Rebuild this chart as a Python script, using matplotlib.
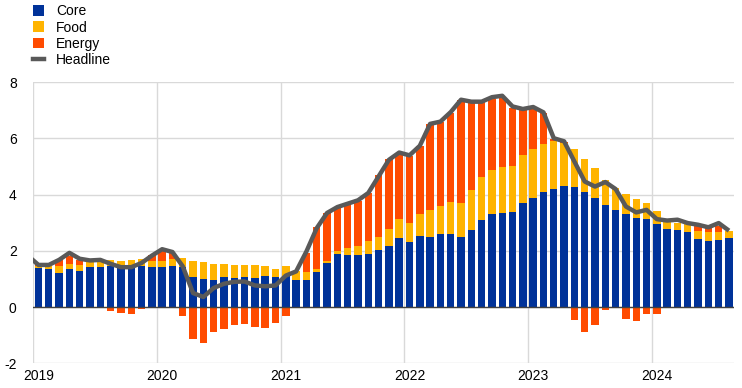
import matplotlib
matplotlib.use("Agg")
import matplotlib.pyplot as plt
from matplotlib.patches import Patch
from matplotlib.lines import Line2D
import numpy as np

plt.rcParams['font.family'] = ['Liberation Sans', 'DejaVu Sans']

years = ["2019", "2020", "2021", "2022", "2023", "2024"]

core = [1.38, 1.34, 1.23, 1.36, 1.27, 1.41, 1.44, 1.48, 1.42, 1.42, 1.48, 1.44,
        1.44, 1.47, 1.42, 1.07, 1.01, 0.95, 1.08, 1.04, 1.08, 1.04, 1.12, 1.06,
        1.09, 0.97, 0.97, 1.26, 1.58, 1.90, 1.86, 1.86, 1.90, 2.04, 2.18, 2.46,
        2.32, 2.54, 2.50, 2.61, 2.61, 2.50, 2.75, 3.11, 3.32, 3.36, 3.39, 3.71,
        3.90, 4.08, 4.22, 4.32, 4.28, 4.08, 3.90, 3.64, 3.44, 3.32, 3.18, 3.14,
        2.94, 2.79, 2.75, 2.68, 2.43, 2.36, 2.40, 2.47]

food = [0.10, 0.13, 0.24, 0.18, 0.24, 0.18, 0.19, 0.19, 0.23, 0.26, 0.23, 0.21,
        0.21, 0.24, 0.32, 0.58, 0.60, 0.58, 0.45, 0.47, 0.43, 0.45, 0.35, 0.30,
        0.38, 0.30, 0.29, 0.09, 0.07, 0.10, 0.24, 0.32, 0.46, 0.46, 0.61, 0.68,
        0.69, 0.78, 0.96, 1.00, 1.14, 1.21, 1.43, 1.53, 1.57, 1.63, 1.64, 1.71,
        1.73, 1.73, 1.68, 1.52, 1.35, 1.20, 1.06, 0.89, 0.81, 0.71, 0.68, 0.57,
        0.49, 0.29, 0.25, 0.26, 0.29, 0.30, 0.29, 0.23]

energy = [0.02, 0.00, 0.21, 0.29, 0.17, 0.05, 0.02, -0.15, -0.21, -0.26, -0.08, 0.21,
          0.33, 0.20, -0.33, -1.13, -1.27, -0.88, -0.77, -0.63, -0.59, -0.70, -0.73, -0.58,
          -0.33, 0.02, 0.66, 1.51, 1.70, 1.55, 1.56, 1.58, 1.70, 2.21, 2.48, 2.28,
          2.36, 2.41, 3.06, 2.98, 3.15, 3.65, 3.14, 2.67, 2.53, 2.47, 2.05, 1.60,
          1.42, 1.09, 0.09, 0.03, -0.45, -0.87, -0.65, -0.12, -0.05, -0.44, -0.48, -0.23,
          -0.26, -0.05, 0.00, 0.00, 0.16, 0.17, 0.20, 0.00]

# Dec 2018 followed by Jan 2019 ... Aug 2024
headline = [1.82,
            1.50, 1.50, 1.68, 1.93, 1.72, 1.66, 1.68, 1.54, 1.42, 1.42, 1.57, 1.83,
            2.06, 1.96, 1.45, 0.50, 0.36, 0.68, 0.83, 0.90, 0.91, 0.77, 0.74, 0.77,
            1.12, 1.27, 1.98, 2.81, 3.35, 3.56, 3.68, 3.80, 4.06, 4.65, 5.24, 5.50,
            5.40, 5.74, 6.52, 6.60, 6.94, 7.38, 7.31, 7.31, 7.47, 7.52, 7.14, 7.05,
            7.12, 6.93, 6.01, 5.90, 5.18, 4.47, 4.29, 4.45, 4.20, 3.58, 3.37, 3.46,
            3.13, 3.08, 3.11, 2.99, 2.93, 2.84, 2.99, 2.72]

C_CORE = "#003299"
C_FOOD = "#ffb400"
C_ENERGY = "#ff4b00"
C_LINE = "#595959"

core_a = np.array(core)
food_a = np.array(food)
en_a = np.array(energy)
n = len(core_a)
x = np.arange(n) + 0.5
w = 0.72

fig = plt.figure(figsize=(7.42, 3.88), dpi=100)
ax = fig.add_axes([0.0449, 0.0637, 0.9445, 0.7242])

ax.bar(x, core_a, width=w, color=C_CORE, zorder=2, linewidth=0)
ax.bar(x, food_a, width=w, bottom=core_a, color=C_FOOD, zorder=2, linewidth=0)
en_pos = np.where(en_a > 0, en_a, 0)
en_neg = np.where(en_a < 0, en_a, 0)
ax.bar(x, en_pos, width=w, bottom=core_a + food_a, color=C_ENERGY, zorder=2, linewidth=0)
ax.bar(x, en_neg, width=w, bottom=0, color=C_ENERGY, zorder=2, linewidth=0)

ax.axhline(0, color="#404040", lw=1.0, zorder=3)

xl = np.arange(len(headline)) - 0.5
ax.plot(xl, headline, color=C_LINE, lw=3.2, zorder=4,
        solid_joinstyle="round", solid_capstyle="butt")

ax.set_xlim(0, 68)
ax.set_ylim(-2, 8)
ax.set_yticks([-2, 0, 2, 4, 6, 8])
ax.set_yticklabels(["-2", "0", "2", "4", "6", "8"])

year_starts = np.arange(len(years)) * 12
ax.set_xticks(year_starts)
ax.set_xticklabels([""] * len(years))
ax.set_xticks(year_starts + 0.5, minor=True)
ax.set_xticklabels(years, minor=True)
ax.tick_params(axis="x", which="both", length=0, labelsize=10, pad=4, colors="#000000")
ax.tick_params(axis="y", length=0, labelsize=10, pad=12)

ax.grid(True, which="major", color="#d9d9d9", lw=1.0, zorder=0)
ax.set_axisbelow(True)
for s in ax.spines.values():
    s.set_visible(False)

handles = [Patch(facecolor=C_CORE, edgecolor="none"),
           Patch(facecolor=C_FOOD, edgecolor="none"),
           Patch(facecolor=C_ENERGY, edgecolor="none"),
           Line2D([0], [0], color=C_LINE, lw=3.2)]
labels = ["Core", "Food", "Energy", "Headline"]
fig.legend(handles, labels, loc="upper left", bbox_to_anchor=(0.041, 0.996),
           frameon=False, fontsize=10, handlelength=0.8, handleheight=0.8,
           handletextpad=0.85, labelspacing=0.16, borderaxespad=0, borderpad=0.2)

fig.savefig("out.png", dpi=100)
